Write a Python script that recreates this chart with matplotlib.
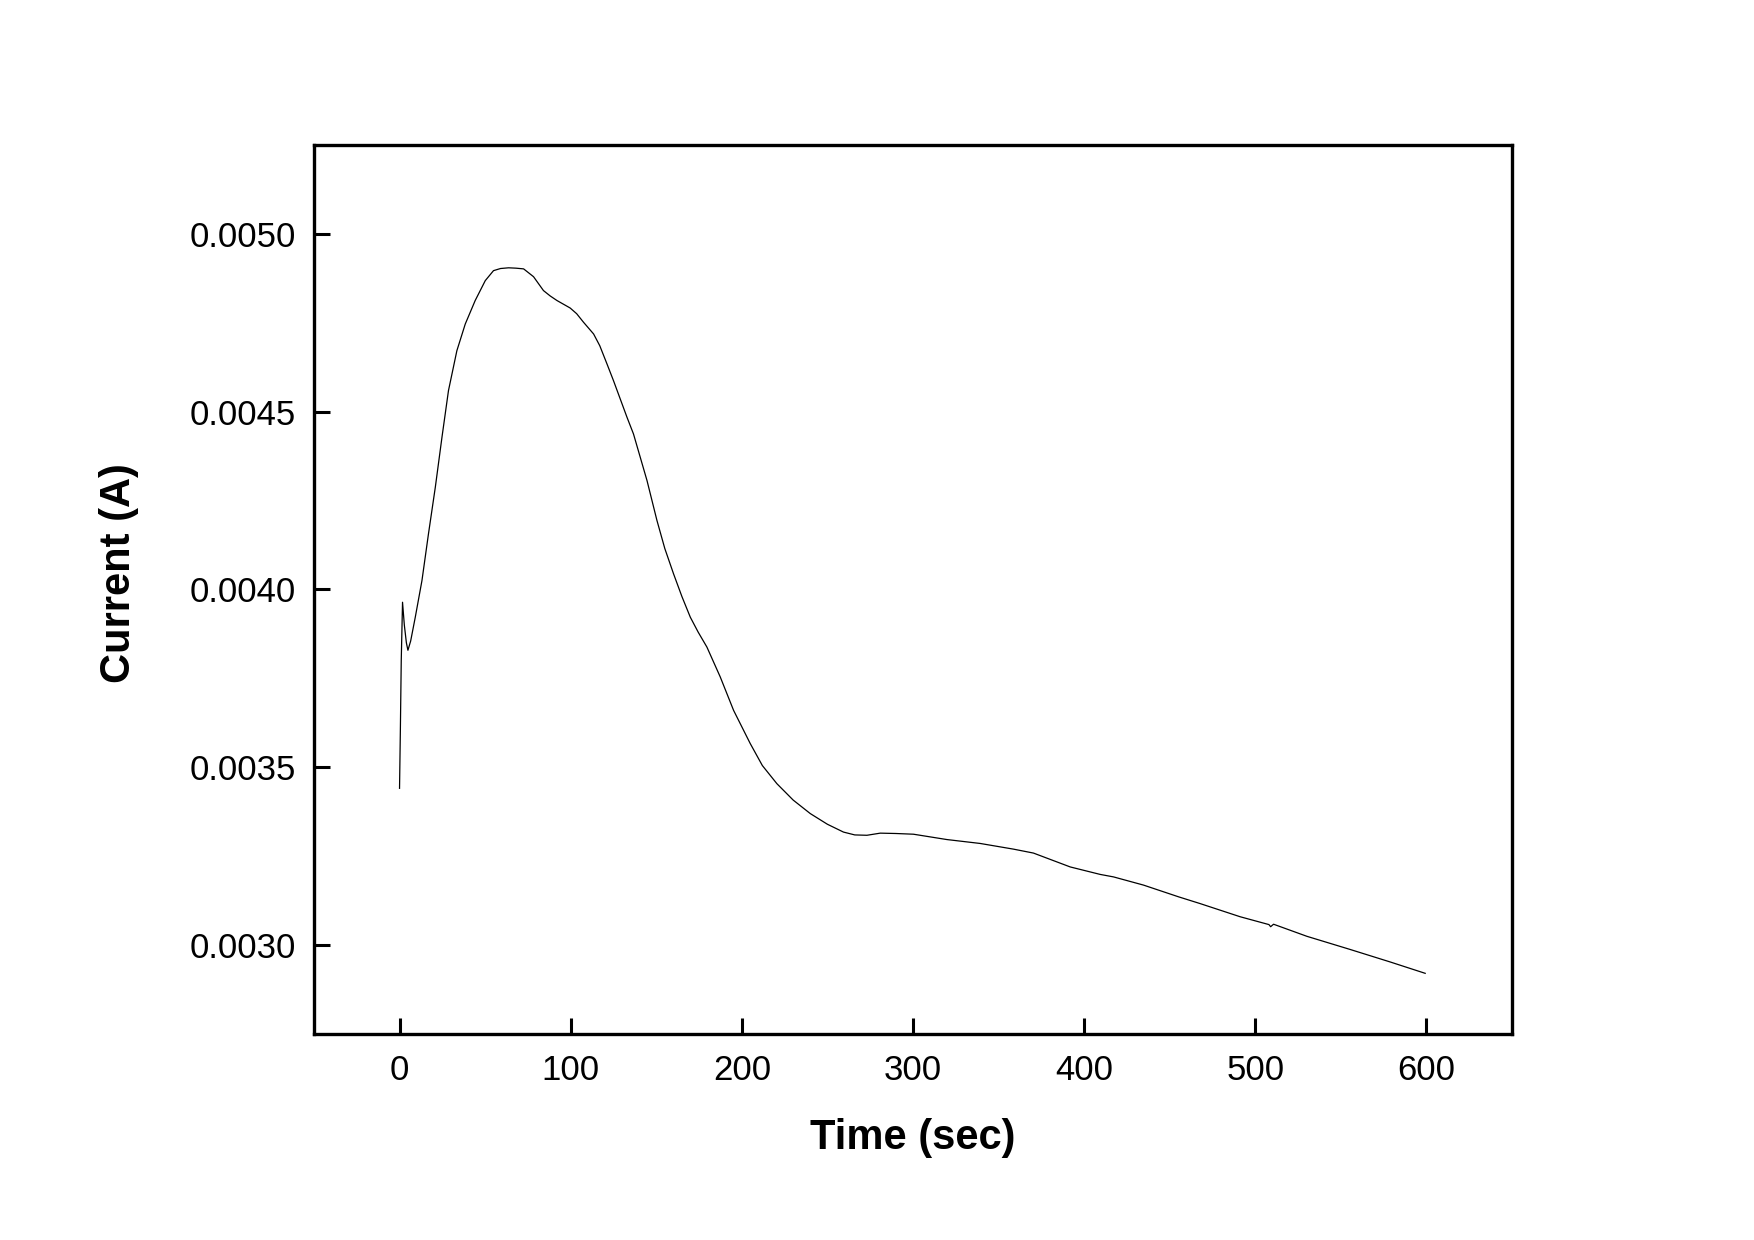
import matplotlib
matplotlib.use("Agg")
import matplotlib.pyplot as plt
from matplotlib.ticker import FormatStrFormatter

plt.rcParams['font.family'] = ['Liberation Sans', 'DejaVu Sans']

time_s = [0.0, 0.5, 1.0, 1.75, 2.8, 4.0, 4.9, 6.5, 9.2, 13.1, 16.9, 20.9, 24.8,
          28.6, 33.5, 38.4, 44.2, 50.1, 54.9, 59.0, 63.7, 68.0, 72.5, 78.3,
          84.1, 88.0, 92.0, 99.7, 103.5, 107.5, 113.4, 117.0, 121.2, 125.0, 132.9,
          136.7, 144.6, 150.4, 155.0, 160.1, 165.0, 169.9, 174.5, 179.6, 187.4,
          195.2, 204.9, 212.0, 220.5, 230.0, 240.0, 250.0, 259.4, 266.0, 273.1,
          280.9, 290.0, 300.3, 319.8, 339.3, 358.8, 370.4, 391.9, 409.4, 417.2,
          434.7, 455.2, 467.8, 491.2, 508.0, 509.0, 510.7, 530.2, 555.5, 578.8,
          599.3]
current_a = [0.003441, 0.003610, 0.003800, 0.003964, 0.003900, 0.003850, 0.003829,
             0.003855, 0.003922, 0.004025, 0.004156, 0.004287, 0.004428,
             0.004559, 0.004671, 0.004746, 0.004812, 0.004868, 0.004896, 0.004902,
             0.004904, 0.004903, 0.004901, 0.004879,
             0.004840, 0.004825, 0.004812, 0.004791, 0.004775, 0.004751, 0.004718,
             0.004685, 0.004634, 0.004587, 0.004484,
             0.004437, 0.004306, 0.004194, 0.004115, 0.004044, 0.003980, 0.003922,
             0.003880, 0.003838, 0.003754,
             0.003660, 0.003567, 0.003505, 0.003454, 0.003408, 0.003370, 0.003340,
             0.003318, 0.003310, 0.003309,
             0.003315, 0.003314, 0.003312, 0.003297, 0.003286, 0.003270, 0.003259,
             0.003220, 0.003199, 0.003192,
             0.003169, 0.003136, 0.003117, 0.003080, 0.003058, 0.003052, 0.003059,
             0.003025, 0.002988, 0.002953,
             0.002921]

x_ticks = [0, 100, 200, 300, 400, 500, 600]
y_ticks = [0.0030, 0.0035, 0.0040, 0.0045, 0.0050]

fig = plt.figure(figsize=(17.54, 12.40), dpi=100)
ax = fig.add_axes([0.179, 0.166, 0.683, 0.7173])

ax.plot(time_s, current_a, color='black', linewidth=0.9)

ax.set_xlim(-50, 650)
ax.set_ylim(0.00275, 0.00525)
ax.set_xticks(x_ticks)
ax.set_yticks(y_ticks)
ax.yaxis.set_major_formatter(FormatStrFormatter('%.4f'))

for sp in ax.spines.values():
    sp.set_linewidth(2.4)

ax.tick_params(axis='both', which='major', direction='in', length=11.5,
               width=2.2, labelsize=25, pad=13)
ax.tick_params(axis='x', pad=14)

ax.set_xlabel('Time (sec)', fontsize=30, fontweight='bold', va='center')
ax.set_ylabel('Current (A)', fontsize=30, fontweight='bold', va='center', ha='center')
ax.xaxis.set_label_coords(0.5, -0.117)
ax.yaxis.set_label_coords(-0.163, 0.518)

fig.savefig('out.png', dpi=100, facecolor='white')
